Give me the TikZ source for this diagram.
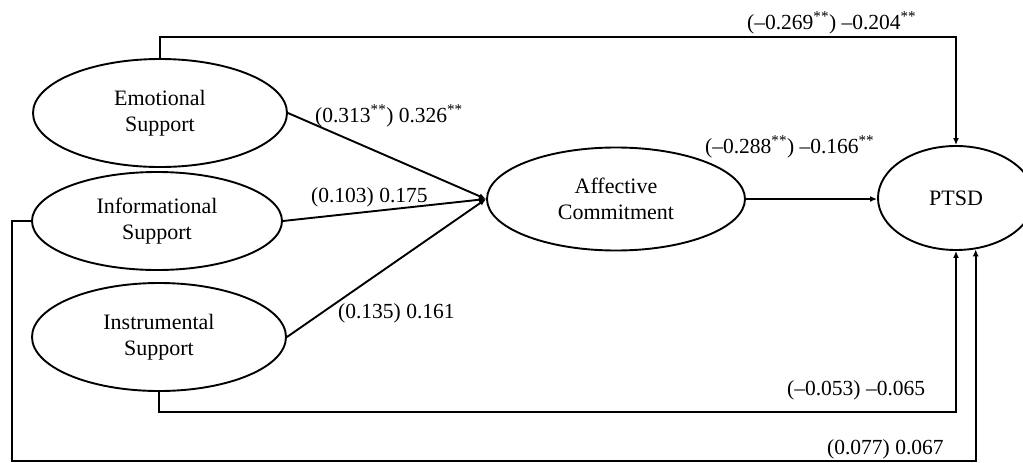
\documentclass[tikz,border=0pt]{standalone}
\usepackage{fontspec}
\setmainfont{Liberation Serif}
\usetikzlibrary{arrows.meta,shapes.geometric}
\begin{document}
\begin{tikzpicture}[x=1pt,y=-1pt,
  lat/.style={draw,ellipse,line width=1.9pt,inner sep=0pt,align=center,font=\fontsize{22}{26}\selectfont},
  conn/.style={line width=1.9pt},
  arr/.style={conn,-{Latex[length=7pt,width=6pt]}},
  lab/.style={font=\fontsize{21.5}{24}\selectfont,inner sep=0pt,anchor=base west}]
\useasboundingbox (0,0) rectangle (1023,463);
\node[lat,minimum width=254pt,minimum height=108pt] (es) at (160,113) {Emotional\\Support};
\node[lat,minimum width=250pt,minimum height=98pt] (inf) at (157,221) {Informational\\Support};
\node[lat,minimum width=254pt,minimum height=108pt] (ins) at (159,337) {Instrumental\\Support};
\node[lat,minimum width=258pt,minimum height=103pt] (ac) at (616,199) {Affective\\Commitment};
\node[lat,minimum width=156pt,minimum height=104pt] (pt) at (956,198) {PTSD};

\coordinate (c1) at (160,37);
\coordinate (c2) at (159,412);
\coordinate (c3) at (12,221);
\coordinate (c4) at (12,461);

\draw[arr] (es.east) -- (ac.west);
\draw[arr] (inf.east) -- (ac.west);
\draw[arr] (ins.east) -- (ac.west);
\draw[arr] (ac.east) -- (ac.east -| pt.west);
\draw[arr] (es.north) -- (c1) -| (pt.north);
\draw[arr] (ins.south) -- (c2) -| (pt.south);
\draw[arr] (inf.west) -- (c3) -- (c4) -| (pt.-69);

\node[lab] (l1) at (747,29) {(–0.269\textsuperscript{**}) –0.204\textsuperscript{**}};
\node[lab] (l2) at (705,153) {(–0.288\textsuperscript{**}) –0.166\textsuperscript{**}};
\node[lab] (l3) at (315,122) {(0.313\textsuperscript{**}) 0.326\textsuperscript{**}};
\node[lab] (l4) at (311,202) {(0.103) 0.175};
\node[lab] (l5) at (338,318) {(0.135) 0.161};
\node[lab] (l6) at (787,395) {(–0.053) –0.065};
\node[lab] (l7) at (827,454) {(0.077) 0.067};
\end{tikzpicture}
\end{document}
